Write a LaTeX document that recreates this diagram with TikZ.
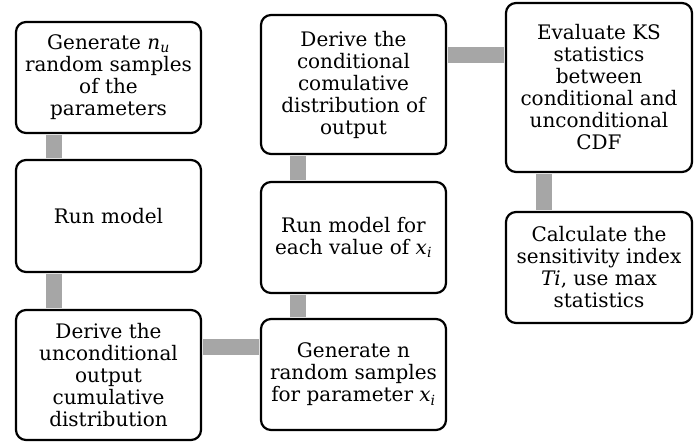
\documentclass[tikz,border=0pt]{standalone}
\usepackage{fontspec}
\setmainfont{DejaVu Serif}
\definecolor{linkgray}{RGB}{166,166,166}

\begin{document}
\begin{tikzpicture}[
x=1pt,y=-1pt,
every node/.style={
draw,
line width=2.2pt,
rounded corners=10pt,
align=center,
inner sep=0pt,
minimum width=185pt,
font=\fontsize{20}{22}\selectfont
},
link/.style={
draw=linkgray,
line width=16pt,
shorten >=1pt,
shorten <=1pt
}
]
\useasboundingbox (0,0) rectangle (699,442);

\node[minimum height=111pt] (GenNu) at (108.5,77.5)
{Generate \textit{n}\textsubscript{\textit{u}}\\random samples\\of the\\parameters};

\node[minimum height=112pt] (Run) at (108.5,216)
{Run model};

\node[minimum height=130pt] (Uncond) at (108.5,375)
{Derive the\\unconditional\\output\\cumulative\\distribution};

\node[minimum height=111pt] (GenN) at (353.5,374.5)
{Generate n\\random samples\\for parameter \textit{x}\textsubscript{\textit{i}}};

\node[minimum height=111pt] (RunXi) at (353.5,237.5)
{Run model for\\each value of \textit{x}\textsubscript{\textit{i}}};

\node[minimum height=139pt] (Cond) at (353.5,84.5)
{Derive the\\conditional\\comulative\\distribution of\\output};

\node[minimum width=186pt,minimum height=169pt] (KS) at (599,87.5)
{Evaluate KS\\statistics\\between\\conditional and\\unconditional\\CDF};

\node[minimum width=186pt,minimum height=111pt] (Index) at (599,267.5)
{Calculate the\\sensitivity index\\\textit{Ti}, use max\\statistics};

\draw[link] ([xshift=39pt]GenNu.south west) -- ([xshift=39pt]Run.north west);
\draw[link] ([xshift=39pt]Run.south west) -- ([xshift=39pt]Uncond.north west);
\draw[link] ([yshift=28pt]Uncond.east) -- ([yshift=27.5pt]GenN.west);
\draw[link] ([xshift=38.5pt]GenN.north west) -- ([xshift=38.5pt]RunXi.south west);
\draw[link] ([xshift=38.5pt]RunXi.north west) -- ([xshift=38.5pt]Cond.south west);
\draw[link] ([yshift=29.5pt]Cond.east) -- ([yshift=32.5pt]KS.west);
\draw[link] ([xshift=39pt]KS.south west) -- ([xshift=39pt]Index.north west);

\end{tikzpicture}
\end{document}
